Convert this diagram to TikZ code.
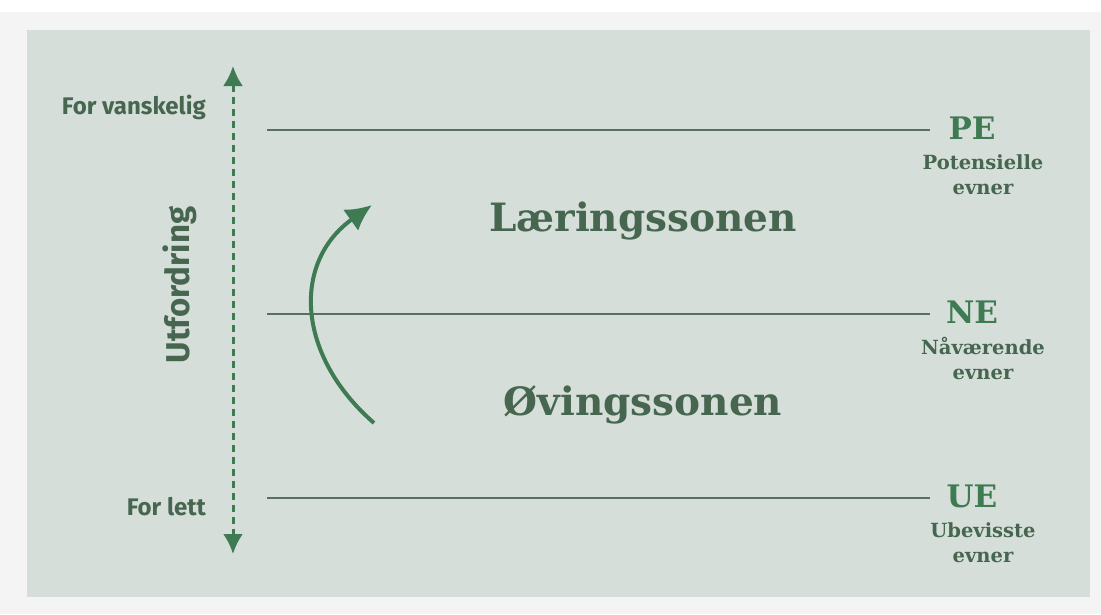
\documentclass[tikz,border=0pt]{standalone}
\usepackage{fontspec}
\setmainfont{Fira Sans}
\newfontfamily\slabfont{DejaVu Serif}
\usetikzlibrary{arrows.meta}
\definecolor{panelbg}{HTML}{D6DEDA}
\definecolor{pagebg}{HTML}{F3F4F3}
\definecolor{arrowgreen}{HTML}{3E7A52}
\definecolor{textgreen}{HTML}{46664F}
\definecolor{linegreen}{HTML}{587262}
\tikzset{
  zoneline/.style={line width=2pt, color=linegreen},
  sidelabel/.style={font=\bfseries\fontsize{24}{28}\selectfont, text=textgreen, anchor=east, inner sep=0pt},
  zonelabel/.style={font=\slabfont\bfseries\fontsize{39}{42}\selectfont, text=textgreen, inner sep=0pt},
  codelabel/.style={font=\slabfont\bfseries\fontsize{31}{34}\selectfont, text=arrowgreen, inner sep=0pt},
  sublabel/.style={font=\slabfont\bfseries\fontsize{19.5}{25}\selectfont, text=textgreen, align=center, inner sep=0pt}
}
\begin{document}
\begin{tikzpicture}[x=1pt,y=-1pt]
        % background
        \fill[pagebg] (0,0) rectangle (1101,614);
        \fill[white] (0,0) rectangle (1101,12);
        \fill[panelbg] (27,30) rectangle (1090,597);
        \useasboundingbox (0,0) rectangle (1101,614);

        \coordinate (axisTop) at (233,66);
        \coordinate (axisBot) at (233,554);
        \coordinate (peL) at (267,130);
        \coordinate (peR) at (930,130);
        \coordinate (neL) at (267,314);
        \coordinate (neR) at (930,314);
        \coordinate (ueL) at (267,498);
        \coordinate (ueR) at (930,498);
        \coordinate (turnStart) at (374,423);
        \coordinate (turnEnd) at (372,205);

        % challenge axis
        \draw[arrowgreen, line width=3pt, dash pattern=on 7pt off 5pt, {Latex[length=20pt,width=20pt]}-{Latex[length=20pt,width=20pt]}] (axisTop) -- (axisBot);
        \node[sidelabel] (hard) at (206,107) {For vanskelig};
        \node[sidelabel] (easy) at (206,507) {For lett};
        \node[font=\bfseries\fontsize{33}{35}\selectfont, text=textgreen, rotate=90, inner sep=0pt] (axislabel) at (180,285) {Utfordring};

        % levels
        \draw[zoneline] (peL) -- (peR);
        \draw[zoneline] (neL) -- (neR);
        \draw[zoneline] (ueL) -- (ueR);

        \node[codelabel] (pe) at (972,128) {PE};
        \node[codelabel] (ne) at (972,312) {NE};
        \node[codelabel] (ue) at (972,496) {UE};
        \node[sublabel] (pesub) at (983,175) {Potensielle\\evner};
        \node[sublabel] (nesub) at (983,358) {Nåværende\\evner};
        \node[sublabel] (uesub) at (983,543) {Ubevisste\\evner};

        % zones
        \node[zonelabel] (learn) at (643,221) {Læringssonen};
        \node[zonelabel] (practice) at (643,405) {Øvingssonen};

        \draw[arrowgreen, line width=4pt, -{Latex[length=26pt,width=26pt]}] (turnStart) .. controls (296,355) and (292,262) .. (turnEnd);
    \end{tikzpicture}
\end{document}
